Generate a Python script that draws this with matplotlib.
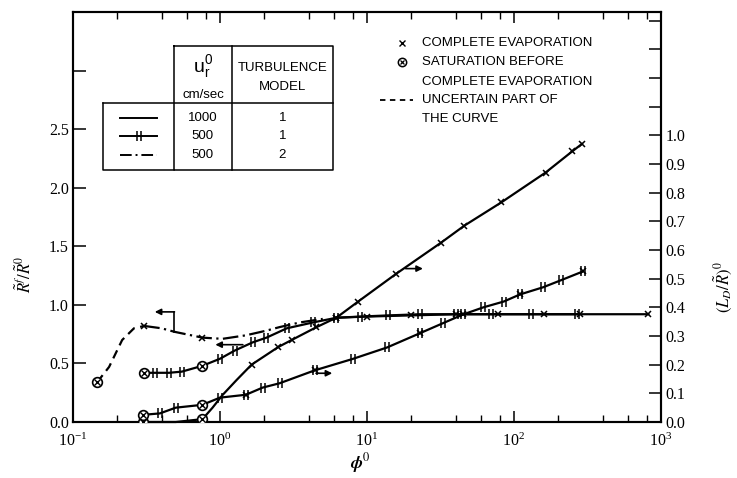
import matplotlib
matplotlib.use("Agg")
import matplotlib.pyplot as plt
from matplotlib.path import Path
from matplotlib.ticker import LogLocator, FixedLocator, FixedFormatter, NullFormatter

plt.rcParams['font.family'] = 'Liberation Serif'
plt.rcParams['mathtext.fontset'] = 'stix'

# ---- R^f / R^0 curves (left axis) ----
# 500 cm/sec, model 2 : dashed (uncertain) part then dash-dot
phi_a_dash = [0.146, 0.176, 0.216, 0.26, 0.305]
rf_a_dash = [0.34, 0.47, 0.70, 0.80, 0.82]
phi_a = [0.305, 0.40, 0.49, 0.76, 1.04, 1.5, 2.07, 2.54, 3.5, 5.0]
rf_a = [0.82, 0.80, 0.77, 0.72, 0.71, 0.74, 0.78, 0.81, 0.85, 0.88]

# 500 cm/sec, model 1 : solid with bar marks
phi_b = [0.305, 0.36, 0.45, 0.55, 0.76, 1.0, 1.26, 1.67, 2.07, 2.85, 4.3, 6.2, 9, 14, 23, 40, 70, 130, 270]
rf_b = [0.42, 0.42, 0.42, 0.43, 0.48, 0.54, 0.61, 0.68, 0.72, 0.80, 0.85, 0.89, 0.90, 0.91, 0.92, 0.92, 0.92, 0.92, 0.92]

# 1000 cm/sec, model 1 : solid with x marks
phi_e = [6.2, 10, 20, 40, 78, 160, 283, 820]
rf_e = [0.89, 0.90, 0.91, 0.92, 0.92, 0.92, 0.92, 0.92]

# ---- (L_D/R)^0 curves (right axis) ----
phi_c = [0.30, 0.5, 0.76, 0.89, 1.04, 1.3, 1.64, 2.5, 3.1, 4.5, 6.2, 8.7, 15.8, 32, 46, 82, 164, 249, 290]
ld_c = [0.0, 0.0, 0.01, 0.05, 0.094, 0.147, 0.20, 0.262, 0.287, 0.33, 0.364, 0.42, 0.517, 0.626, 0.685, 0.766, 0.87, 0.944, 0.97]
phi_d = [0.30, 0.39, 0.5, 0.76, 1.0, 1.5, 1.95, 2.54, 4.4, 8.0, 13.7, 23, 33, 45, 62, 85, 110, 158, 210, 294]
ld_d = [0.025, 0.03, 0.05, 0.06, 0.085, 0.095, 0.12, 0.135, 0.18, 0.22, 0.26, 0.31, 0.345, 0.375, 0.40, 0.42, 0.445, 0.47, 0.495, 0.525]

table_speed = ['1000', '500', '500']
table_model = ['1', '1', '2']

bar2 = Path([(-0.35, -1), (-0.35, 1), (0.35, -1), (0.35, 1)],
            [Path.MOVETO, Path.LINETO, Path.MOVETO, Path.LINETO])
sans = ['Liberation Sans Narrow', 'Liberation Sans', 'DejaVu Sans']


def circx(axis, x, y):
    axis.plot(x, y, 'o', ms=7, mfc='white', mec='black', mew=1.2, zorder=5)
    axis.plot(x, y, 'x', ms=4, color='black', mew=1.0, zorder=6)


fig = plt.figure(figsize=(7.37, 4.78), dpi=100)
ax = fig.add_axes([73 / 737, 56 / 478, 588 / 737, 410 / 478])
ax2 = ax.twinx()

lw = 1.6
# left axis curves
ax.plot(phi_a_dash, rf_a_dash, color='k', lw=lw, ls=(0, (4, 2.5)))
ax.plot(phi_a, rf_a, color='k', lw=lw, ls=(0, (7, 2, 1, 2)))
ax.plot(phi_a[:4], rf_a[:4], 'x', color='k', ms=5, mew=1.1, markevery=[0, 3])
circx(ax, phi_a_dash[0], rf_a_dash[0])

ax.plot(phi_b, rf_b, color='k', lw=lw, marker=bar2, ms=7, mew=1.1,
        markevery=list(range(1, 4)) + list(range(5, len(phi_b))))
circx(ax, [phi_b[0], phi_b[4]], [rf_b[0], rf_b[4]])

ax.plot(phi_e, rf_e, color='k', lw=lw, marker='x', ms=5, mew=1.1)

# right axis curves
ax2.plot(phi_c, ld_c, color='k', lw=lw, marker='x', ms=5, mew=1.1,
         markevery=list(range(6, len(phi_c))), clip_on=False)
circx(ax2, [phi_c[0], phi_c[2]], [ld_c[0], ld_c[2]])
ax2.plot(phi_d, ld_d, color='k', lw=lw, marker=bar2, ms=7, mew=1.1,
         markevery=[1, 2] + list(range(4, len(phi_d))))
ax2.plot(phi_d, ld_d, 'x', color='k', ms=5, mew=1.1, markevery=[5, 8, 11, 13, 16, 19])
circx(ax2, [phi_d[0], phi_d[3]], [ld_d[0], ld_d[3]])

# arrows telling which axis a curve belongs to
ap = dict(arrowstyle='-|>', lw=1.2, color='k', mutation_scale=9, shrinkA=0, shrinkB=0)
ax.plot([0.49, 0.49], [0.77, 0.94], color='k', lw=1.2)
ax.annotate('', xy=(0.36, 0.94), xytext=(0.49, 0.94), arrowprops=ap)
ax.annotate('', xy=(0.93, 0.66), xytext=(1.43, 0.66), arrowprops=ap)
ax2.annotate('', xy=(24, 0.535), xytext=(18.3, 0.535), arrowprops=ap)
ax2.annotate('', xy=(5.8, 0.17), xytext=(4.5, 0.17), arrowprops=ap)

# axes
ax.set_xscale('log')
ax.set_xlim(0.1, 1000)
ax.set_ylim(0, 3.5)
ax2.set_ylim(0, 1.43)
ax.xaxis.set_major_locator(LogLocator(base=10, numticks=10))
ax.xaxis.set_minor_locator(LogLocator(base=10, subs=[2, 4, 6, 8], numticks=10))
ax.xaxis.set_minor_formatter(NullFormatter())

left_ticks = [0.0, 0.5, 1.0, 1.5, 2.0, 2.5, 3.0, 3.5]
ax.yaxis.set_major_locator(FixedLocator(left_ticks))
ax.yaxis.set_major_formatter(FixedFormatter(['0.0', '0.5', '1.0', '1.5', '2.0', '2.5', '', '']))
right_ticks = [i / 10 for i in range(15)]
ax2.yaxis.set_major_locator(FixedLocator(right_ticks))
ax2.yaxis.set_major_formatter(FixedFormatter(['%.1f' % t if t <= 1.0 else '' for t in right_ticks]))

ax.tick_params(axis='x', which='major', direction='in', length=8, width=1.1, top=True, pad=8, labelsize=11.5)
ax.tick_params(axis='x', which='minor', direction='in', length=5, width=1.0, top=True)
ax.tick_params(axis='y', direction='in', length=9, width=1.1, pad=3, labelsize=11.5)
ax2.tick_params(axis='y', direction='in', length=9, width=1.1, pad=3, labelsize=11.5)
for a in (ax, ax2):
    for s in a.spines.values():
        s.set_linewidth(1.5)

T = ax.transAxes
ax.text(-0.082, 0.36, r'$\tilde{R}^f/\tilde{R}^0$', transform=T, rotation=90,
        ha='center', va='center', fontsize=12)
ax.text(1.105, 0.33, r'$(L_D/\tilde{R})^0$', transform=T, rotation=90,
        ha='center', va='center', fontsize=12)
ax.text(0.488, -0.10, r'$\boldsymbol{\phi}^0$', transform=T, ha='center', va='center', fontsize=13)

# table of cases
tl = dict(color='k', lw=1.1, transform=T, clip_on=False)
ax.plot([0.172, 0.442, 0.442, 0.172, 0.172], [0.917, 0.917, 0.615, 0.615, 0.917], **tl)
ax.plot([0.051, 0.442], [0.778, 0.778], **tl)
ax.plot([0.051, 0.051, 0.172], [0.778, 0.615, 0.615], **tl)
ax.plot([0.270, 0.270], [0.917, 0.615], **tl)
ax.text(0.221, 0.866, r'$\mathregular{u_r^0}$', transform=T, ha='center', va='center', fontsize=14, family=sans)
ax.text(0.221, 0.798, 'cm/sec', transform=T, ha='center', va='center', fontsize=9.5, family=sans)
ax.text(0.356, 0.863, 'TURBULENCE', transform=T, ha='center', va='center', fontsize=9.5, family=sans)
ax.text(0.356, 0.817, 'MODEL', transform=T, ha='center', va='center', fontsize=9.5, family=sans)
row_y = [0.741, 0.698, 0.651]
row_ls = ['-', '-', (0, (6, 2, 1, 2))]
for i in range(3):
    ax.plot([0.080, 0.143], [row_y[i], row_y[i]], color='k', lw=1.4, ls=row_ls[i], transform=T)
    ax.text(0.221, row_y[i], table_speed[i], transform=T, ha='center', va='center', fontsize=9.5, family=sans)
    ax.text(0.356, row_y[i], table_model[i], transform=T, ha='center', va='center', fontsize=9.5, family=sans)
ax.plot([0.112], [row_y[1]], marker=bar2, ms=7, mew=1.1, color='k', transform=T)

# symbol key
ax.plot([0.559], [0.924], 'x', color='k', ms=4, mew=1.0, transform=T)
ax.plot([0.559], [0.878], 'o', ms=6, mfc='white', mec='k', mew=1.1, transform=T)
ax.plot([0.559], [0.878], 'x', ms=3.5, color='k', mew=0.9, transform=T)
ax.plot([0.522, 0.578], [0.785, 0.785], color='k', lw=1.3, ls=(0, (3, 2.5)), transform=T)
key_lines = [(0.924, 'COMPLETE EVAPORATION'), (0.878, 'SATURATION BEFORE'),
             (0.829, 'COMPLETE EVAPORATION'), (0.785, 'UNCERTAIN PART OF'), (0.739, 'THE CURVE')]
for yy, txt in key_lines:
    ax.text(0.594, yy, txt, transform=T, ha='left', va='center', fontsize=9.5, family=sans)

fig.savefig('out.png', dpi=100)
